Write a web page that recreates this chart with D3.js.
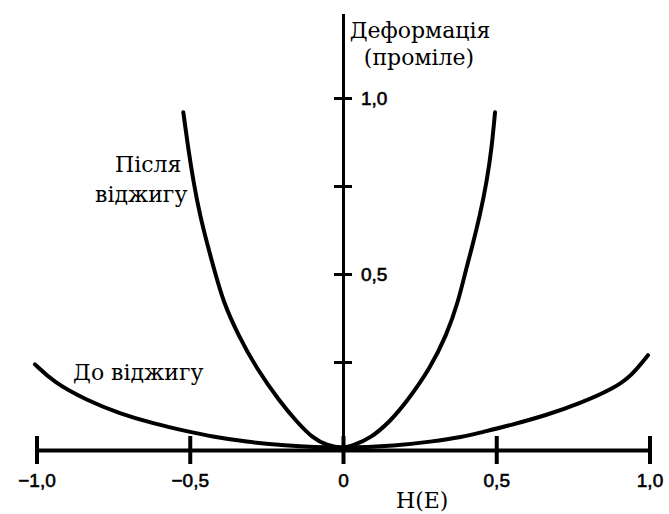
<!DOCTYPE html>
<html>
<head>
<meta charset="utf-8">
<script src="https://cdn.jsdelivr.net/npm/d3@7"></script>
</head>
<body style="margin:0">
<svg width="669" height="514"></svg>
<script>
// values (H(E) on x, strain in promille on y)
const afterX = [-0.521, -0.505, -0.488, -0.467, -0.439, -0.421, -0.391, -0.342, -0.282, -0.206, -0.151, -0.097, -0.053, 0,
    0.034, 0.088, 0.153, 0.208, 0.284, 0.338, 0.376, 0.402, 0.42, 0.447, 0.469, 0.485, 0.496];
const afterY = [0.955, 0.852, 0.758, 0.663, 0.568, 0.511, 0.417, 0.322, 0.227, 0.133, 0.076, 0.028, 0.009, 0,
    0.009, 0.028, 0.076, 0.133, 0.227, 0.322, 0.417, 0.511, 0.568, 0.663, 0.758, 0.852, 0.955];

const beforeX = [-1.005, -0.945, -0.836, -0.728, -0.619, -0.51, -0.423, -0.314, -0.206, 0,
    0.175, 0.284, 0.393, 0.447, 0.55, 0.665, 0.773, 0.882, 0.94, 0.995];
const beforeY = [0.239, 0.189, 0.137, 0.099, 0.071, 0.049, 0.033, 0.019, 0.009, 0,
    0.008, 0.019, 0.033, 0.045, 0.067, 0.095, 0.128, 0.17, 0.205, 0.265];

const xTicks = [-1, -0.5, 0, 0.5, 1];
const yTicks = [0.25, 0.5, 0.75, 1];
const yLabelled = [0.5, 1];

const yTitle = ["Деформація", "(проміле)"];
const xTitle = "H(E)";
const afterLabel = ["Після", "віджигу"];
const beforeLabel = "До віджигу";

let svg = d3.select("svg");

let x = d3.scaleLinear().domain([-1, 1]).range([36.5, 649.5]);
let y = d3.scaleLinear().domain([0, 1.24]).range([450, 13.5]);

// comma decimal, long minus
let fmt = d3.formatLocale({decimal: ",", thousands: " ", grouping: [3], currency: ["", ""], minus: "\u2212"}).format(".1f");

// x axis, ticks go both sides of the line
let gx = svg.append("g")
    .attr("transform", "translate(0," + y(0) + ")")
    .call(d3.axisBottom(x).tickValues(xTicks).tickSizeOuter(0)
        .tickFormat((d) => d === 0 ? "0" : fmt(d)));
gx.select(".domain").attr("stroke-width", 4).attr("stroke", "#000");
gx.selectAll(".tick line").attr("y1", -14).attr("y2", 14).attr("stroke-width", 4).attr("stroke", "#000");
gx.selectAll(".tick text").attr("y", 36.5).attr("dy", 0);

// y axis
let gy = svg.append("g")
    .attr("transform", "translate(" + x(0) + ",0)")
    .call(d3.axisRight(y).tickValues(yTicks).tickSizeOuter(0).tickPadding(12)
        .tickFormat((d) => yLabelled.includes(d) ? fmt(d) : ""));
gy.select(".domain").attr("stroke-width", 3).attr("stroke", "#000");
gy.selectAll(".tick line").attr("x1", -9).attr("x2", 9).attr("stroke-width", 3).attr("stroke", "#000");
gy.selectAll(".tick text").attr("dy", "0.36em");

svg.selectAll(".tick text")
    .attr("font-family", "Liberation Sans")
    .attr("font-size", 19)
    .attr("fill", "#000")
    .attr("stroke", "#000")
    .attr("stroke-width", 0.6);

// curves
let line = d3.line()
    .x((d) => x(d[0]))
    .y((d) => y(d[1]) - 1.5)
    .curve(d3.curveBasis);

let series = [d3.zip(beforeX, beforeY), d3.zip(afterX, afterY)];

svg.append("g")
    .selectAll("path")
    .data(series)
    .enter().append("path")
    .attr("d", line)
    .attr("fill", "none")
    .attr("stroke", "#000")
    .attr("stroke-width", 4)
    .attr("stroke-linecap", "round");

// serif labels, in their own group
let labels = svg.append("g")
    .attr("font-family", "DejaVu Serif")
    .attr("font-size", 22);

labels.append("text").attr("x", 420).attr("y", 37.5).attr("text-anchor", "middle").text(yTitle[0]);
labels.append("text").attr("x", 419).attr("y", 65).attr("text-anchor", "middle").text(yTitle[1]);
labels.append("text").attr("x", 396).attr("y", 508).text(xTitle);
labels.append("text").attr("x", 115).attr("y", 172).text(afterLabel[0]);
labels.append("text").attr("x", 95).attr("y", 201.5).text(afterLabel[1]);
labels.append("text").attr("x", 73).attr("y", 380).text(beforeLabel);
</script>
</body>
</html>
